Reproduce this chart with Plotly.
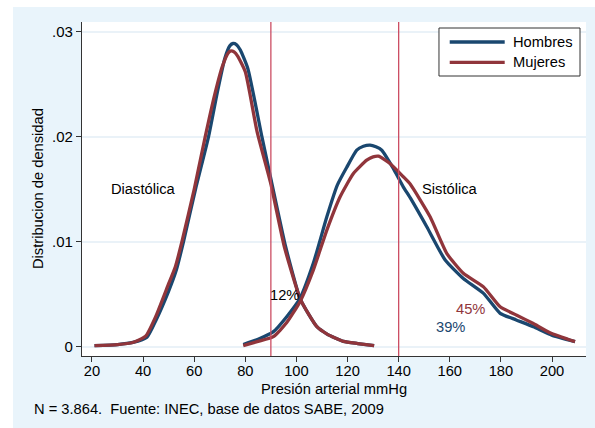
import plotly.graph_objects as go

# Diastolic densities
dia_h_x = [21, 30, 36, 41.5, 45, 50, 53, 55.8, 60.5, 65.6, 69, 72, 74, 75.2, 76.5, 78, 81, 86.5, 90, 95.8, 101.4, 105, 108, 112, 118.4, 124, 130.4]
dia_h_y = [0.0001, 0.0002, 0.0004, 0.0009, 0.0025, 0.0053, 0.0073, 0.0100, 0.0150, 0.0200, 0.0242, 0.0275, 0.0287, 0.0289, 0.0288, 0.0283, 0.0265, 0.0200, 0.0160, 0.0095, 0.0046, 0.0030, 0.0019, 0.0012, 0.0005, 0.0003, 0.0001]
dia_m_x = [21, 30, 36, 41, 45, 50, 52.6, 55.2, 60, 64.3, 68, 71, 73.3, 74.4, 75.6, 77, 80, 84.6, 90, 95.3, 101.4, 105, 108, 112, 118.4, 124, 130.4]
dia_m_y = [0.0001, 0.0002, 0.0004, 0.0010, 0.0029, 0.0060, 0.0076, 0.0100, 0.0150, 0.0200, 0.0240, 0.0267, 0.0280, 0.0282, 0.0281, 0.0277, 0.0262, 0.0205, 0.0155, 0.0095, 0.0046, 0.0030, 0.0019, 0.0012, 0.0005, 0.0003, 0.0001]

# Systolic densities
sis_h_x = [79.2, 85, 91, 96.2, 101.4, 106.6, 111.9, 116.0, 119.7, 123.6, 126.2, 128.8, 131.1, 133.4, 137.9, 141.8, 144.5, 151.0, 158.2, 165.3, 173.2, 179.7, 186.0, 192.7, 199.9, 209.0]
sis_h_y = [0.0002, 0.0007, 0.00143, 0.00286, 0.00461, 0.00794, 0.01238, 0.01540, 0.01710, 0.01873, 0.01910, 0.01921, 0.01905, 0.01873, 0.01699, 0.01524, 0.01420, 0.01143, 0.00826, 0.00650, 0.00508, 0.00318, 0.00255, 0.00190, 0.00110, 0.00048]
sis_m_x = [79.2, 85, 91, 96.2, 101.4, 106.6, 111.9, 117.1, 122.3, 127.5, 130.0, 132.1, 136.6, 141.8, 144.5, 152.3, 158.8, 165.3, 173.2, 179.7, 186.2, 192.7, 199.2, 209.0]
sis_m_y = [0.0001, 0.0005, 0.00095, 0.0023, 0.00429, 0.0073, 0.01111, 0.01429, 0.01651, 0.01778, 0.01810, 0.01816, 0.01746, 0.01620, 0.01550, 0.01238, 0.00890, 0.00700, 0.00570, 0.00380, 0.00300, 0.00220, 0.00133, 0.00048]

x_ticks = [20, 40, 60, 80, 100, 120, 140, 160, 180, 200]
y_ticks = [0, 0.01, 0.02, 0.03]
y_tick_labels = ["0", ".01", ".02", ".03"]
cutoffs = [90, 140]
legend_names = ["Hombres", "Mujeres"]

BLUE = "#1a476f"
RED = "#90353b"
VLINE = "#cc4d63"
BG = "#e9f4fb"
GRID = "#eaf2f8"
FONT = "Liberation Sans, Arial, sans-serif"
FS = 14.7

fig = go.Figure()
for xs, ys, color, name in [
    (dia_h_x, dia_h_y, BLUE, "Hombres"),
    (dia_m_x, dia_m_y, RED, "Mujeres"),
    (sis_h_x, sis_h_y, BLUE, "Hombres"),
    (sis_m_x, sis_m_y, RED, "Mujeres"),
]:
    fig.add_trace(go.Scatter(x=xs, y=ys, mode="lines", name=name, showlegend=False,
                             line=dict(color=color, width=3.3, shape="spline", smoothing=0.5)))

for c in cutoffs:
    fig.add_vline(x=c, line=dict(color=VLINE, width=1.3), layer="above")

fig.update_layout(
    width=595, height=428,
    margin=dict(l=82, r=9, t=22, b=72),
    paper_bgcolor=BG, plot_bgcolor="white",
    font=dict(family=FONT, size=FS, color="black"),
    showlegend=False,
    xaxis=dict(range=[16.1, 213.3], tickvals=x_ticks, showgrid=False, zeroline=False,
               showline=True, linecolor="#333333", linewidth=1.2,
               ticks="outside", ticklen=5, tickcolor="#333333",
               ticklabelstandoff=-4,
               tickfont=dict(size=14.7)),
    yaxis=dict(range=[-0.00089, 0.03095], tickvals=y_ticks, ticktext=y_tick_labels,
               showgrid=True, gridcolor=GRID, gridwidth=1.5, zeroline=False,
               showline=True, linecolor="#333333", linewidth=1.2,
               ticks="outside", ticklen=5, tickcolor="#333333",
               tickfont=dict(size=15)),
)

# white outer margins (top and left strips)
fig.add_shape(type="rect", xref="paper", yref="paper", x0=-0.2, x1=-0.1369, y0=-0.3, y1=1.1,
              fillcolor="white", line_width=0, layer="above")
fig.add_shape(type="rect", xref="paper", yref="paper", x0=-0.2, x1=1.1, y0=1.0449, y1=1.1,
              fillcolor="white", line_width=0, layer="above")

# manual legend
fig.add_shape(type="rect", xref="paper", yref="paper", x0=0.7083, x1=0.9881, y0=0.8383, y1=0.9820,
              fillcolor="white", line=dict(color="#333333", width=1), layer="above")
for name, color, yp in [(legend_names[0], BLUE, 0.9401), (legend_names[1], RED, 0.8793)]:
    fig.add_shape(type="line", xref="paper", yref="paper", x0=0.7296, x1=0.8387, y0=yp, y1=yp,
                  line=dict(color=color, width=3.3), layer="above")
    fig.add_annotation(x=0.8506, y=yp, xref="paper", yref="paper", text=name, showarrow=False,
                       xanchor="left", yanchor="middle", font=dict(size=FS))

annos = [
    dict(x=40, y=0.0150, text="Diastólica", color="black"),
    dict(x=160.1, y=0.0150, text="Sistólica", color="black"),
    dict(x=95.5, y=0.0049, text="12%", color="black"),
    dict(x=168, y=0.0036, text="45%", color=RED),
    dict(x=160.1, y=0.0019, text="39%", color=BLUE),
]
for a in annos:
    fig.add_annotation(x=a["x"], y=a["y"], text=a["text"], showarrow=False,
                       font=dict(size=FS, color=a["color"]), xanchor="center", yanchor="middle")

fig.add_annotation(x=0.5, y=-0.0988, xref="paper", yref="paper", text="Presión arterial mmHg",
                   showarrow=False, xanchor="center", yanchor="middle", font=dict(size=FS))
fig.add_annotation(x=-0.0873, y=0.5, xref="paper", yref="paper", text="Distribucion de densidad",
                   showarrow=False, xanchor="center", yanchor="middle", textangle=-90, font=dict(size=FS))
fig.add_annotation(x=-0.0992, y=-0.1587, xref="paper", yref="paper",
                   text="N = 3.864.  Fuente: INEC, base de datos SABE, 2009",
                   showarrow=False, xanchor="left", yanchor="middle", font=dict(size=FS))

fig.write_html("out.html")
